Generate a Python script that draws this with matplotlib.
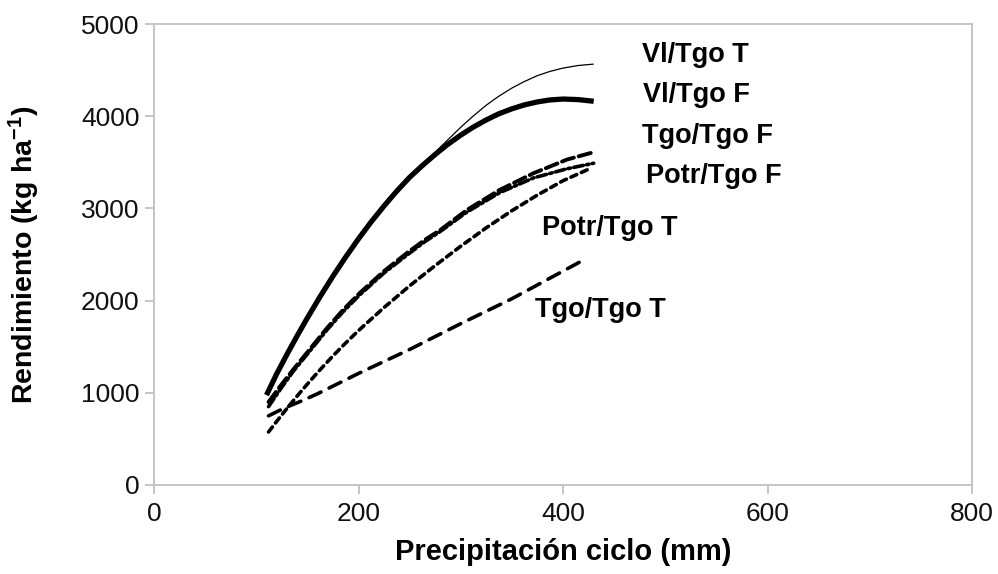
import matplotlib
matplotlib.use("Agg")
import matplotlib.pyplot as plt

plt.rcParams['font.family'] = ['Liberation Sans', 'DejaVu Sans']
plt.rcParams['mathtext.fontset'] = 'custom'
plt.rcParams['mathtext.rm'] = 'Liberation Sans'
plt.rcParams['mathtext.bf'] = 'Liberation Sans:bold'
plt.rcParams['mathtext.default'] = 'bf'
plt.rcParams['lines.scale_dashes'] = False

# ---- data ----
x_vi_t = [110, 120, 130, 140, 150, 162, 175, 187, 200, 212, 225, 237, 250, 262, 275, 287,
          300, 312, 325, 337, 350, 362, 375, 387, 400, 415, 430]
y_vi_t = [978, 1208, 1418, 1620, 1814, 2037, 2267, 2467, 2672, 2850, 3029, 3184, 3339, 3471,
          3610, 3740, 3880, 4000, 4120, 4215, 4305, 4375, 4440, 4485, 4522, 4550, 4565]

x_vi_f = [110, 120, 130, 140, 150, 162, 175, 187, 200, 212, 225, 237, 250, 262, 275, 287,
          300, 312, 325, 337, 350, 362, 375, 387, 400, 415, 430]
y_vi_f = [975, 1206, 1416, 1618, 1812, 2035, 2265, 2465, 2670, 2848, 3027, 3182, 3337, 3460,
          3585, 3692, 3795, 3880, 3960, 4025, 4080, 4122, 4155, 4176, 4186, 4180, 4162]

x_tgo_f = [112, 124, 136, 150, 169, 185, 201, 225, 247, 265, 280, 306, 338, 371, 404, 430]
y_tgo_f = [900, 1080, 1250, 1440, 1700, 1900, 2080, 2320, 2513, 2660, 2766, 2983, 3200, 3381, 3530, 3610]

x_potr_f = [112, 124, 136, 150, 169, 185, 201, 225, 247, 265, 280, 306, 338, 371, 404, 430]
y_potr_f = [850, 1045, 1230, 1420, 1680, 1880, 2060, 2300, 2490, 2640, 2750, 2960, 3170, 3330, 3430, 3490]

x_potr_t = [112, 120, 130, 140, 150, 162, 175, 187, 200, 225, 250, 275, 300, 325, 350, 375, 400, 428]
y_potr_t = [575, 690, 830, 965, 1095, 1245, 1400, 1535, 1675, 1925, 2160, 2380, 2590, 2790, 2975, 3145, 3300, 3440]

x_tgo_t = [112, 122, 132, 145, 160, 180, 200, 225, 250, 275, 300, 325, 350, 375, 400, 420]
y_tgo_t = [750, 805, 855, 915, 990, 1100, 1210, 1340, 1470, 1610, 1750, 1885, 2020, 2170, 2320, 2440]

labels = ['Vl/Tgo T', 'Vl/Tgo F', 'Tgo/Tgo F', 'Potr/Tgo F', 'Potr/Tgo T', 'Tgo/Tgo T']
label_x = [477, 478, 477, 481, 379, 373]
label_y = [4664, 4230, 3790, 3351, 2787, 1898]

x_ticks = [0, 200, 400, 600, 800]
y_ticks = [0, 1000, 2000, 3000, 4000, 5000]

# ---- figure ----
fig = plt.figure(figsize=(9.98, 5.74), dpi=100)
ax = fig.add_axes([154 / 998, 89 / 574, 818 / 998, 461 / 574])

ax.plot(x_vi_t, y_vi_t, color='black', lw=0.9, solid_capstyle='butt', solid_joinstyle='round')
ax.plot(x_vi_f, y_vi_f, color='black', lw=3.8, solid_capstyle='butt', solid_joinstyle='round')
ax.plot(x_tgo_f, y_tgo_f, color='black', lw=2.8, dashes=(9.0, 3.6), dash_capstyle='round')
ax.plot(x_potr_f, y_potr_f, color='black', lw=2.6, dashes=(7.0, 2.4, 1.8, 2.4), dash_capstyle='round')
ax.plot(x_potr_t, y_potr_t, color='black', lw=2.6, dashes=(4.6, 3.6), dash_capstyle='round')
ax.plot(x_tgo_t, y_tgo_t, color='black', lw=2.6, dashes=(9.5, 6.5), dash_capstyle='round')

for t, lx, ly in zip(labels, label_x, label_y):
    ax.text(lx, ly, t, fontsize=19.5, fontweight='bold', ha='left', va='center', color='black')

ax.set_xlim(0, 800)
ax.set_ylim(0, 5000)
ax.set_xticks(x_ticks)
ax.set_yticks(y_ticks)
ax.tick_params(axis='both', direction='out', length=6.5, width=1.1, color='#b5b5b5',
               labelsize=19, labelcolor='#111111')
ax.tick_params(axis='x', pad=6)
ax.tick_params(axis='y', pad=4)
for s in ax.spines.values():
    s.set_color('#c0c0c0')
    s.set_linewidth(1.3)

ax.set_xlabel('Precipitación ciclo (mm)', fontsize=21, fontweight='bold')
ax.set_ylabel('Rendimiento (kg ha$^{-1}$)', fontsize=20.5, fontweight='bold')
ax.xaxis.set_label_coords(0.5, -0.115)
ax.yaxis.set_label_coords(-0.137, 0.5)

fig.savefig('out.png', dpi=100)
